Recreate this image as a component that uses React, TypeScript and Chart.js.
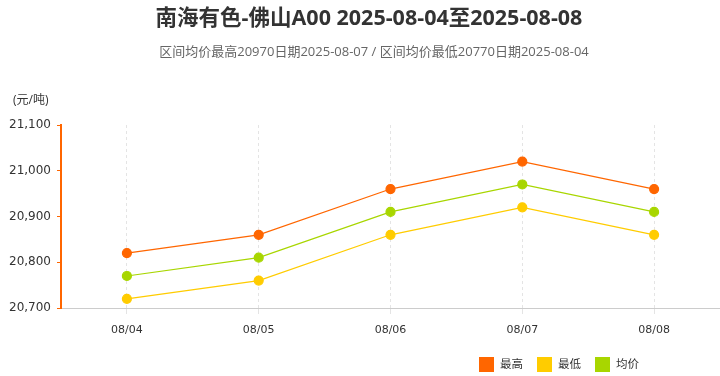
import React, { useEffect, useRef } from "react";
import { Chart, registerables } from "chart.js";

Chart.register(...registerables);

const categories = ["08/04", "08/05", "08/06", "08/07", "08/08"];
const highValues = [20820, 20860, 20960, 21020, 20960];
const lowValues = [20720, 20760, 20860, 20920, 20860];
const avgValues = [20770, 20810, 20910, 20970, 20910];
const seriesNames = ["最高", "最低", "均价"];
const seriesColors = ["#FF6600", "#FFCC00", "#A8D600"];
const titleText = "南海有色-佛山A00 2025-08-04至2025-08-08";
const subtitleText = "区间均价最高20970日期2025-08-07 / 区间均价最低20770日期2025-08-04";
const unitText = "(元/吨)";

const CJK = '"Open Sans", "Noto Sans CJK SC", sans-serif';
const NUM = '"DejaVu Sans", sans-serif';

const textPlugin = {
  id: "texts",
  afterDraw(chart: any) {
    const ctx = chart.ctx;
    ctx.save();
    ctx.textBaseline = "middle";
    ctx.textAlign = "center";
    ctx.fillStyle = "#333333";
    ctx.font = `bold 21.5px ${CJK}`;
    ctx.fillText(titleText, 369, 19);
    ctx.fillStyle = "#666666";
    ctx.font = `13px ${CJK}`;
    ctx.fillText(subtitleText, 374, 52);
    ctx.textAlign = "left";
    ctx.fillStyle = "#333333";
    ctx.font = `12px ${CJK}`;
    ctx.fillText(unitText, 13, 101);
    const startX = [479, 537, 595];
    chart.data.datasets.forEach((ds: any, i: number) => {
      const x = startX[i];
      ctx.fillStyle = ds.borderColor;
      ctx.fillRect(x, 357, 15, 15);
      ctx.fillStyle = "#333333";
      ctx.font = `11.5px ${CJK}`;
      ctx.textAlign = "left";
      ctx.fillText(ds.label, x + 21, 365);
    });
    ctx.restore();
  },
};

export default function App() {
  const ref = useRef<HTMLCanvasElement>(null);
  useEffect(() => {
    document.body.style.margin = "0";
    const makeDs = (label: string, data: number[], color: string) => ({
      label,
      data,
      borderColor: color,
      backgroundColor: color,
      pointBackgroundColor: color,
      pointBorderColor: color,
      pointRadius: 4.5,
      borderWidth: 1.2,
      tension: 0,
    });
    const chart = new Chart(ref.current!, {
      type: "line",
      data: {
        labels: categories,
        datasets: [
          makeDs(seriesNames[0], highValues, seriesColors[0]),
          makeDs(seriesNames[1], lowValues, seriesColors[1]),
          makeDs(seriesNames[2], avgValues, seriesColors[2]),
        ],
      },
      options: {
        animation: false,
        responsive: false,
        maintainAspectRatio: false,
        layout: { autoPadding: false, padding: { top: 125, bottom: 38, left: 0, right: 0 } },
        plugins: { legend: { display: false }, title: { display: false }, tooltip: { enabled: false } },
        scales: {
          x: {
            offset: true,
            afterFit: (s: any) => { s.height = 30; s.paddingRight = 0; s.paddingLeft = 0; },
            grid: {
              display: true,
              color: "#e4e4e4",
              tickLength: 6,
              offset: false,
              drawOnChartArea: true,
              tickColor: "#e4e4e4",
            },
            border: { display: true, color: "#cccccc", width: 1, dash: [3, 3] },
            ticks: { color: "#333333", font: { family: NUM, size: 11 }, padding: 10 },
          },
          y: {
            min: 20700,
            max: 21100,
            afterFit: (s: any) => { s.width = 61; },
            grid: { drawOnChartArea: false, color: "#FF6600", tickLength: 4 },
            border: { display: true, color: "#FF6600", width: 2 },
            ticks: {
              stepSize: 100,
              color: "#333333",
              font: { family: NUM, size: 12 },
              padding: 6,
              callback: (v: any) => Number(v).toLocaleString("en-US"),
            },
          },
        },
      },
      plugins: [textPlugin],
    });
    return () => chart.destroy();
  }, []);
  return (
    <div style={{ width: 720, height: 376 }}>
      <canvas ref={ref} width={720} height={376} />
    </div>
  );
}
